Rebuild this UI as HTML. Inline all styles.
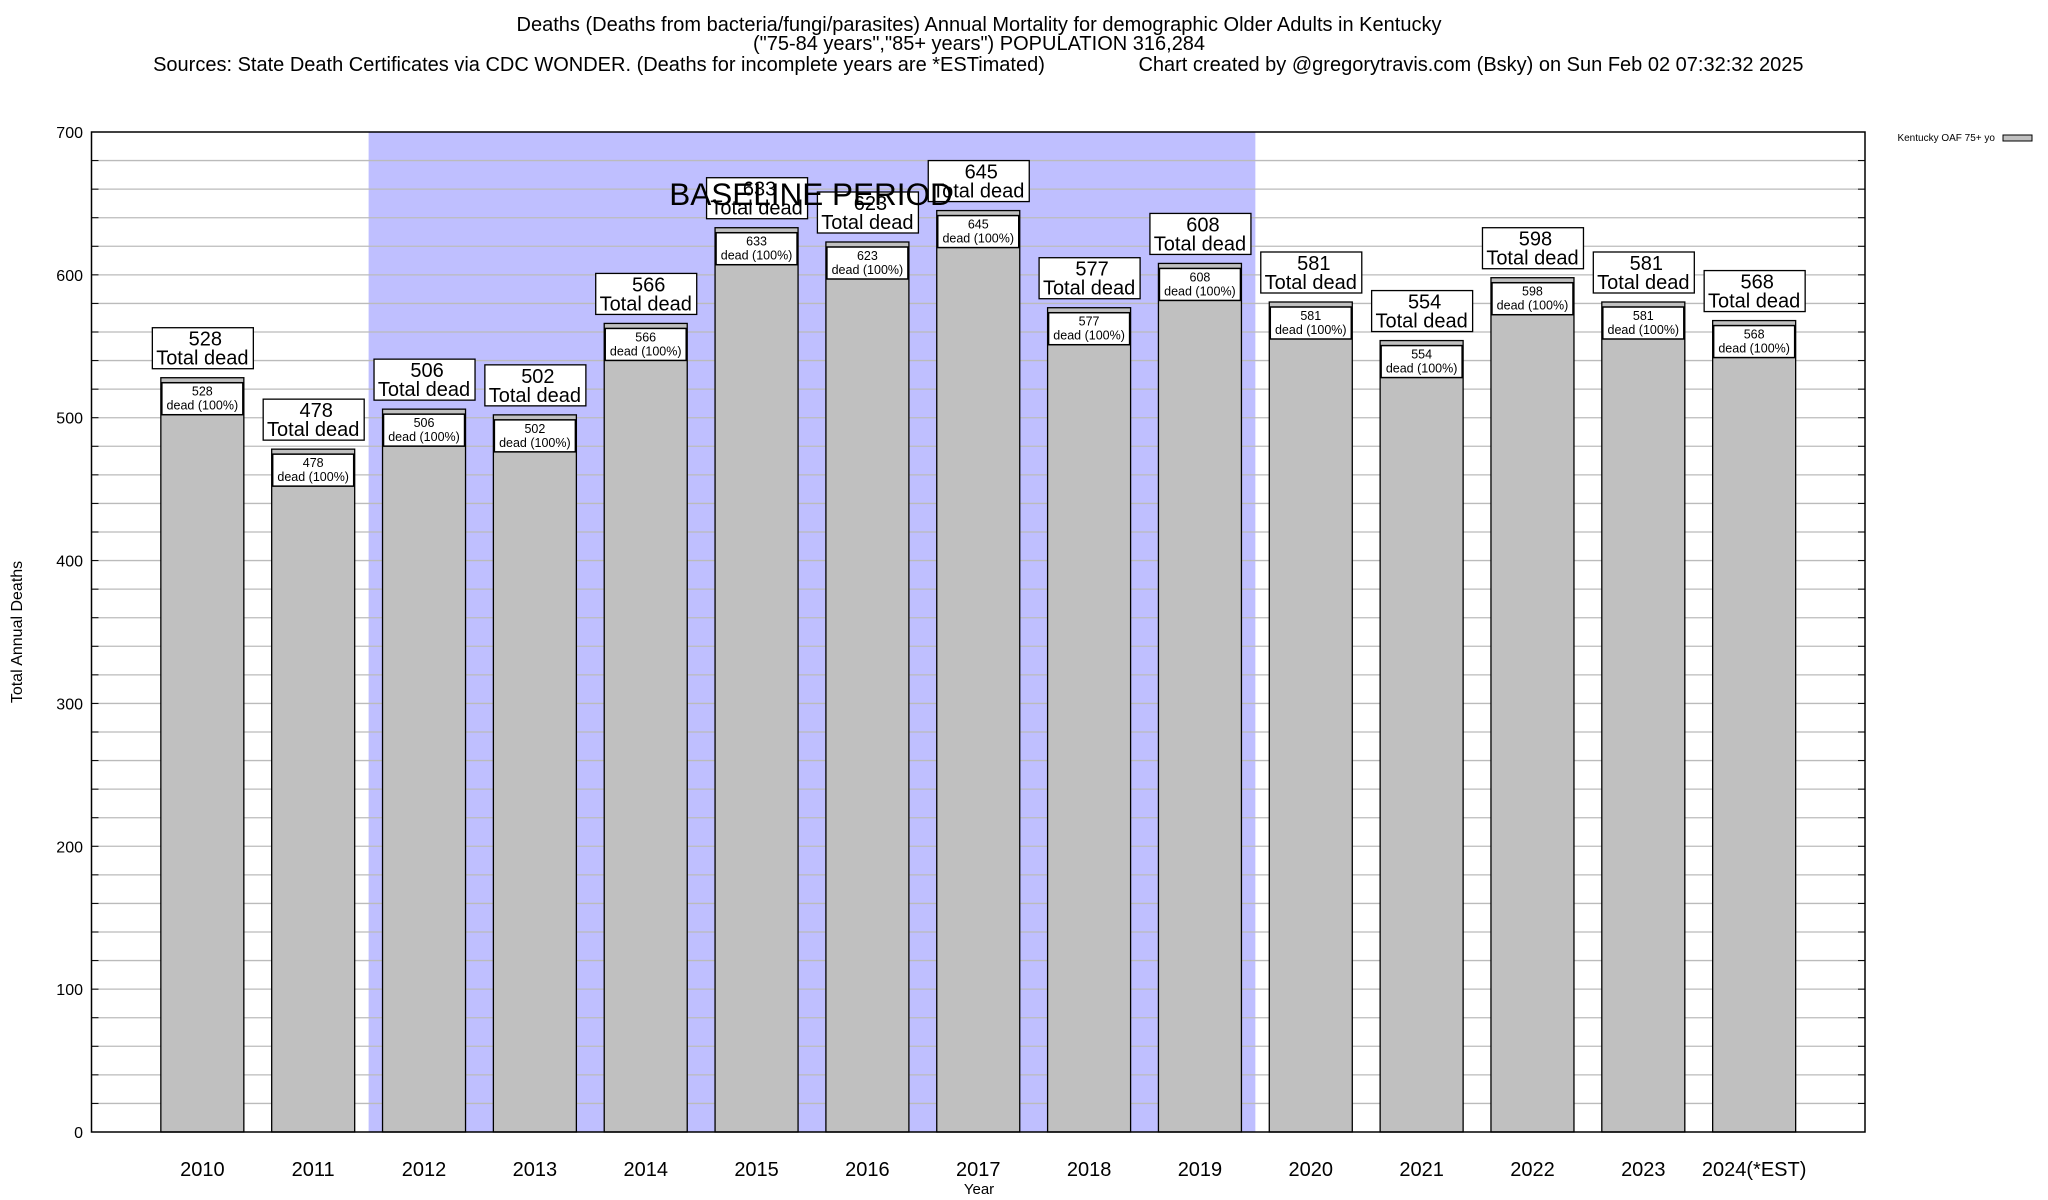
<!DOCTYPE html>
<html><head><meta charset="utf-8"><style>
html,body{margin:0;padding:0;background:#fff;}
svg{display:block;font-family:"Liberation Sans",sans-serif;}
</style></head><body>
<svg id="chart" width="2048" height="1200" viewBox="0 0 2048 1200">
<g font-size="20" text-anchor="middle" fill="#000">
<text x="979" y="31">Deaths (Deaths from bacteria/fungi/parasites) Annual Mortality for demographic Older Adults in Kentucky</text>
<text x="979" y="50">("75-84 years","85+ years") POPULATION 316,284</text>
<text x="599" y="71">Sources: State Death Certificates via CDC WONDER. (Deaths for incomplete years are *ESTimated)</text>
<text x="1471" y="71">Chart created by @gregorytravis.com (Bsky) on Sun Feb 02 07:32:32 2025</text>
</g>
<g id="plot"></g>
<text x="22" y="632" font-size="16" text-anchor="middle" transform="rotate(-90 22 632)">Total Annual Deaths</text>
<text x="979" y="1194" font-size="15" text-anchor="middle">Year</text>
<g>
<text x="1995" y="141" font-size="10" text-anchor="end">Kentucky OAF 75+ yo</text>
<rect x="2003" y="135" width="29" height="6" fill="#c0c0c0" stroke="#000" stroke-width="1"/>
</g>
</svg>
<script>
const categories = ["2010","2011","2012","2013","2014","2015","2016","2017","2018","2019","2020","2021","2022","2023","2024(*EST)"];
const values = [528,478,506,502,566,633,623,645,577,608,581,554,598,581,568];
const yTicks = [0,100,200,300,400,500,600,700];
const baselineStart = 2011.5 - 2010;
const baselineEnd = 2019.5 - 2010;

const L=91.5, R=1865, T=132, B=1132, yMax=700;
const step=(R-L)/(categories.length+1);
const xs=i=>L+step*(i+1);
const ys=v=>B-v/yMax*(B-T);
const NS="http://www.w3.org/2000/svg";
const plot=document.getElementById('plot');
function mk(tag,attrs,parent,text){const e=document.createElementNS(NS,tag);for(const k in attrs)e.setAttribute(k,attrs[k]);if(text!==undefined)e.textContent=text;(parent||plot).appendChild(e);return e;}

let sh=mk('rect',{x:xs(baselineStart),y:T,width:xs(baselineEnd)-xs(baselineStart),height:B-T,fill:'#bfbfff'});



for(let v=20;v<yMax;v+=20){
  let g=mk('line',{x1:L,x2:R,y1:ys(v),y2:ys(v),stroke:'#bbb','stroke-width':1.3});
  
  
  mk('line',{x1:L,x2:L+7,y1:ys(v),y2:ys(v),stroke:'#000','stroke-width':1});
  mk('line',{x1:R-7,x2:R,y1:ys(v),y2:ys(v),stroke:'#000','stroke-width':1});
}
yTicks.forEach(v=>{
  let t=mk('text',{x:83,y:ys(v)+6,'font-size':16,'text-anchor':'end'},plot,String(v));
  
  
});

const bw=83;
categories.forEach((c,i)=>{
  const cx=xs(i), v=values[i], top=ys(v);
  let b=mk('rect',{x:cx-bw/2,y:top,width:bw,height:B-top,fill:'#c0c0c0',stroke:'#000','stroke-width':1.3});
  
  
  let ib=mk('rect',{x:cx-bw/2+1,y:top+5,width:bw-2,height:32,fill:'#fff',stroke:'#000','stroke-width':1.5});
  
  
  let t1=mk('text',{x:cx,y:top+18,'font-size':12.5,'text-anchor':'middle'},plot,String(v));
  
  
  let t2=mk('text',{x:cx,y:top+32,'font-size':12.5,'text-anchor':'middle'},plot,'dead (100%)');
  
  
  let ob=mk('rect',{x:cx-50,y:top-50,width:101,height:41,fill:'#fff',stroke:'#000','stroke-width':1.3});
  
  
  let o1=mk('text',{x:cx+3,y:top-32,'font-size':20,'text-anchor':'middle'},plot,String(v));
  
  
  let o2=mk('text',{x:cx,y:top-13,'font-size':20,'text-anchor':'middle'},plot,'Total dead');
  
  
  let xl=mk('text',{x:cx,y:1176,'font-size':20,'text-anchor':'middle'},plot,c);
  
  
});
let bl=mk('text',{x:811,y:205,'font-size':31.5,'text-anchor':'middle'},plot,'BASELINE PERIOD');


let frame=mk('rect',{x:L,y:T,width:R-L,height:B-T,fill:'none',stroke:'#000','stroke-width':1.5});


</script>
</body></html>
